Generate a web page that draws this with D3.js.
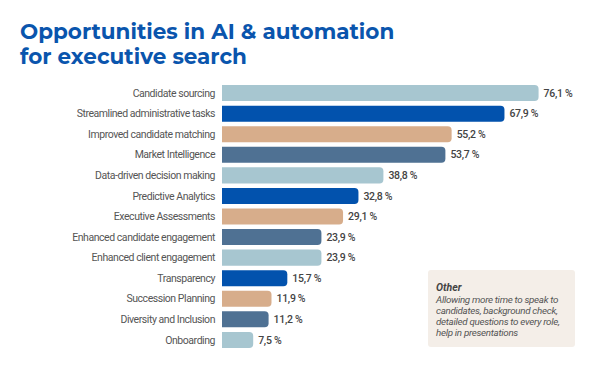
<!DOCTYPE html>
<html>
<head>
<meta charset="utf-8">
<script src="https://cdn.jsdelivr.net/npm/d3@7"></script>
<style>
  body { margin: 0; background: #fff; }
  svg { display: block; }
</style>
</head>
<body>
<svg id="grafico"></svg>
<script>
const categorias = [
  'Candidate sourcing', 'Streamlined administrative tasks', 'Improved candidate matching',
  'Market Intelligence', 'Data-driven decision making', 'Predictive Analytics',
  'Executive Assessments', 'Enhanced candidate engagement', 'Enhanced client engagement',
  'Transparency', 'Succession Planning', 'Diversity and Inclusion', 'Onboarding'
];
const valores = [76.1, 67.9, 55.2, 53.7, 38.8, 32.8, 29.1, 23.9, 23.9, 15.7, 11.9, 11.2, 7.5];
const cores = ['#a7c6d0', '#0252ad', '#d7ad8b', '#4f7193'];
const titulo = ['Opportunities in AI & automation', 'for executive search'];
const notaTitulo = 'Other';
const notaLinhas = ['Allowing more time to speak to', 'candidates, background check,', 'detailed questions to every role,', 'help in presentations'];

const largura = 600, altura = 373;
const svg = d3.select('#grafico').attr('width', largura).attr('height', altura);

svg.selectAll('.titulo')
  .data(titulo)
  .enter()
  .append('text')
  .attr('x', 20)
  .attr('y', (d, i) => 39 + i * 25)
  .attr('font-family', 'Montserrat, "Open Sans", sans-serif')
  .attr('font-weight', 700)
  .attr('font-size', 21.5)
  .attr('fill', '#0a55ad')
  .text(d => d);

const x = d3.scaleLinear().domain([0, 100]).range([222, 638]);
const y = d3.scaleBand().domain(categorias).range([83, 350]).paddingInner(0.22).paddingOuter(0.1);

// barras com canto arredondado só à direita
const barra = (d, i) => {
  const x0 = x(0), x1 = x(valores[i]), y0 = y(d), h = y.bandwidth(), r = 4;
  return `M${x0},${y0}H${x1 - r}Q${x1},${y0} ${x1},${y0 + r}V${y0 + h - r}Q${x1},${y0 + h} ${x1 - r},${y0 + h}H${x0}Z`;
};

svg.selectAll('.barra')
  .data(categorias)
  .enter()
  .append('path')
  .attr('d', barra)
  .attr('fill', (d, i) => cores[i % 4]);

svg.selectAll('.rotulo')
  .data(categorias)
  .enter()
  .append('text')
  .attr('x', 215)
  .attr('y', d => y(d) + y.bandwidth() / 2)
  .attr('dy', '0.35em')
  .attr('text-anchor', 'end')
  .attr('font-family', 'Roboto, sans-serif')
  .attr('font-size', 10.5)
  .attr('letter-spacing', -0.45)
  .attr('fill', '#555')
  .text(d => d);

svg.selectAll('.valor')
  .data(categorias)
  .enter()
  .append('text')
  .attr('x', (d, i) => x(valores[i]) + 5)
  .attr('y', d => y(d) + y.bandwidth() / 2)
  .attr('dy', '0.35em')
  .attr('font-family', 'Roboto, sans-serif')
  .attr('font-weight', 500)
  .attr('font-size', 10.5)
  .attr('letter-spacing', -0.3)
  .attr('fill', '#444')
  .text((d, i) => String(valores[i]).replace('.', ',') + ' %');

const nota = svg.append('g');
nota.append('rect')
  .attr('x', 428).attr('y', 270).attr('width', 147).attr('height', 77)
  .attr('rx', 3).attr('fill', '#f4eee8');
nota.append('text')
  .attr('x', 436).attr('y', 291)
  .attr('font-family', 'Roboto, sans-serif')
  .attr('font-style', 'italic').attr('font-weight', 700)
  .attr('font-size', 10.5).attr('fill', '#444')
  .text(notaTitulo);
nota.selectAll('.linha')
  .data(notaLinhas)
  .enter()
  .append('text')
  .attr('x', 436)
  .attr('y', (d, i) => 302.5 + i * 11.3)
  .attr('font-family', 'Roboto, sans-serif')
  .attr('font-style', 'italic')
  .attr('font-size', 9.8)
  .attr('letter-spacing', -0.3)
  .attr('fill', '#555')
  .text(d => d);
</script>
</body>
</html>
